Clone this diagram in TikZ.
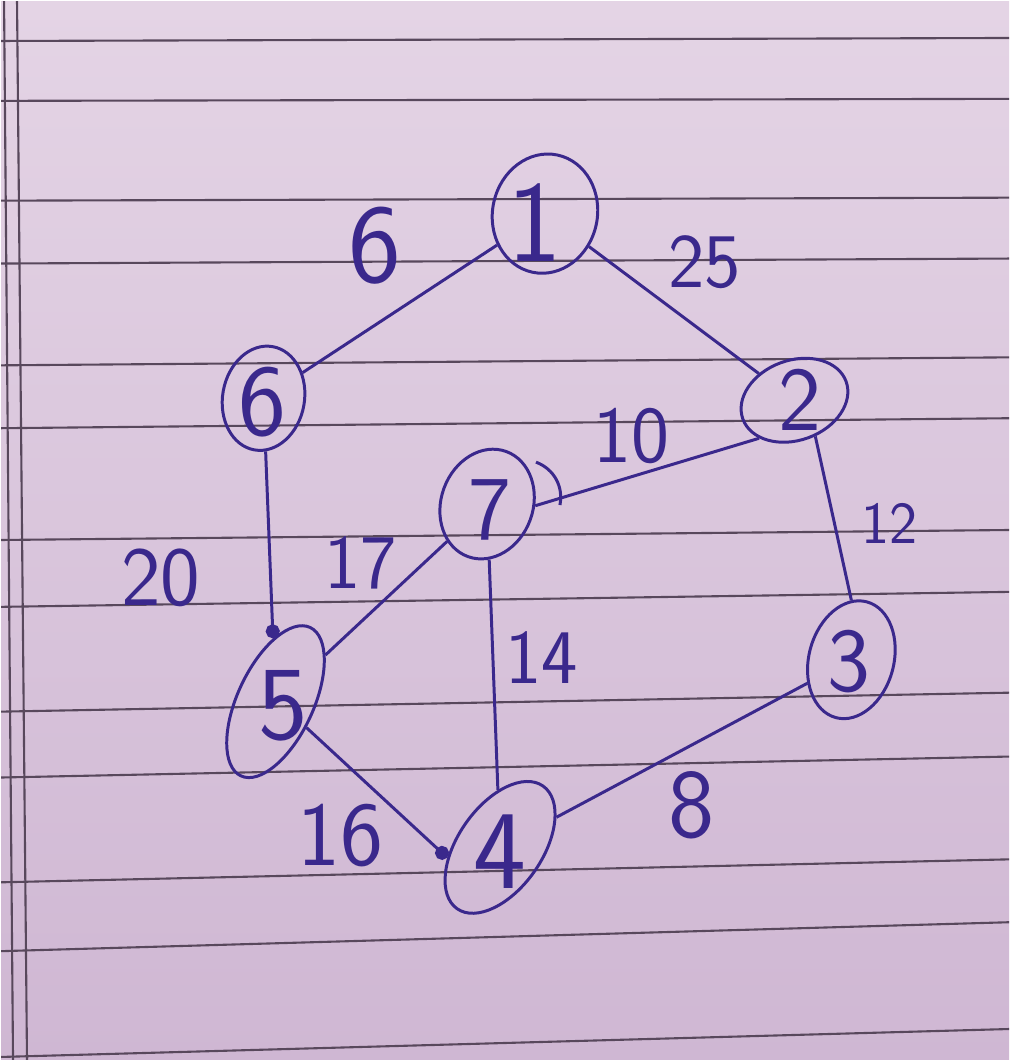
\documentclass[tikz,border=0pt]{standalone}
\usetikzlibrary{shapes.geometric,arrows.meta}
\definecolor{ink}{RGB}{58,40,140}
\definecolor{paperTop}{RGB}{228,212,229}
\definecolor{paperBot}{RGB}{207,183,211}
\definecolor{lineGrey}{RGB}{88,72,92}
\tikzset{
  vert/.style={ellipse, draw=ink, line width=0.85pt, inner sep=0pt},
  digit/.style={text=ink, font=\sffamily\fontsize{26}{30}\selectfont, inner sep=0pt},
  wt/.style={text=ink, font=\sffamily\fontsize{22}{26}\selectfont, inner sep=0pt},
  edge/.style={draw=ink, line width=0.85pt},
  ruled/.style={draw=lineGrey, line width=0.6pt}
}
\begin{document}
\begin{tikzpicture}[x=0.01cm, y=-0.01cm]
  % paper
  \shade[top color=paperTop, bottom color=paperBot] (0,0) rectangle (1010,1061);
  \foreach \yl/\yr in {40/37, 100/98, 200/197, 263/258, 365/357, 428/418, 540/530,
                       607/592, 712/693, 778/757, 883/860, 952/923, 1058/1030}
    \draw[ruled] (0,\yl) -- (1010,\yr);
  \draw[ruled] (3,0) -- (12,1061); % margin
  \draw[ruled] (16,0) -- (26,1061);

  % VERTICES
  \node[vert, minimum width=1.05cm, minimum height=1.2cm, rotate=-12] (n1) at (545,213) {};
  \node[vert, minimum width=1.1cm, minimum height=0.8cm, rotate=20] (n2) at (795,400) {};
  \node[vert, minimum width=0.85cm, minimum height=1.2cm, rotate=-15] (n3) at (852,660) {};
  \node[vert, minimum width=1.5cm, minimum height=0.84cm, rotate=55] (n4) at (500,848) {};
  \node[vert, minimum width=1.64cm, minimum height=0.76cm, rotate=65] (n5) at (275,702) {};
  \node[vert, minimum width=0.82cm, minimum height=1.05cm, rotate=-10] (n6) at (263,398) {};
  \node[vert, minimum width=0.92cm, minimum height=1.12cm, rotate=-20] (n7) at (487,504) {};
  \draw[edge] (536,462) to[bend left=40] (560,505); % second stroke of 7

  % DIGITS
  \node[digit, font=\sffamily\fontsize{33}{36}\selectfont] (d1) at (535,222) {1};
  \node[digit] (d2) at (800,400) {2};
  \node[digit] (d3) at (850,662) {3};
  \node[digit, font=\sffamily\fontsize{32}{36}\selectfont] (d4) at (500,852) {4};
  \node[digit, font=\sffamily\fontsize{30}{34}\selectfont] (d5) at (283,706) {5};
  \node[digit, font=\sffamily\fontsize{29}{34}\selectfont] (d6) at (262,402) {6};
  \node[digit] (d7) at (490,510) {7};

  % DRAW EDGES
  \path[edge] (n1) -- (n6);
  \path[edge] (n1) -- (n2);
  \path[edge] (n7.18) -- (n2.207);
  \path[edge] (n2.-80) -- (n3.105);
  \path[edge, -{Circle[length=4pt]}] (n6) -- (n5);
  \path[edge] (n7) -- (n5);
  \path[edge] (n7) -- (n4);
  \path[edge, -{Circle[length=4pt]}] (n5.255) -- (n4.136);
  \path[edge] (n4) -- (n3);

  % WEIGHTS
  \node[wt, font=\sffamily\fontsize{32}{36}\selectfont] (e16) at (375,245) {6};
  \node[wt] (e12) at (705,262) {25};
  \node[wt, font=\sffamily\fontsize{23}{28}\selectfont] (e72) at (632,436) {10};
  \node[wt, font=\sffamily\fontsize{17}{20}\selectfont] (e23) at (890,523) {12};
  \node[wt, font=\sffamily\fontsize{24}{28}\selectfont] (e65) at (160,578) {20};
  \node[wt] (e75) at (360,563) {17};
  \node[wt] (e74) at (542,658) {14};
  \node[wt, font=\sffamily\fontsize{26}{30}\selectfont] (e54) at (340,836) {16};
  \node[wt, font=\sffamily\fontsize{28}{32}\selectfont] (e43) at (692,806) {8};
\end{tikzpicture}
\end{document}
